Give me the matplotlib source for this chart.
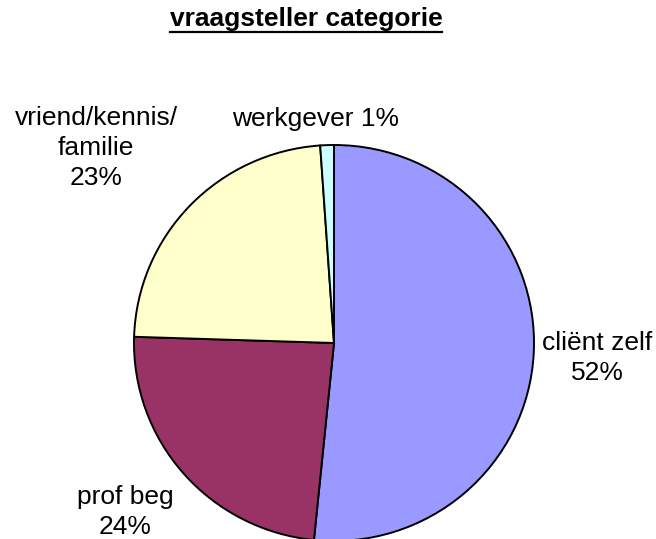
import matplotlib
matplotlib.use("Agg")
import matplotlib.pyplot as plt
from matplotlib.lines import Line2D

plt.rcParams['font.family'] = ['Liberation Sans', 'DejaVu Sans']

# data
categories = ["cliënt zelf", "prof beg", "vriend/kennis/\nfamilie", "werkgever"]
shares = [51.6, 23.9, 23.4, 1.1]
colors = ["#9999FF", "#993366", "#FFFFCC", "#CCFFFF"]
title = "vraagsteller categorie"

W, H = 656, 539
fig = plt.figure(figsize=(W / 100, H / 100), dpi=100)

# pie box in pixels: left 134, top 145, 400 wide, 396 high
ax = fig.add_axes([134 / W, (H - 145 - 396) / H, 400 / W, 396 / H])
ax.pie(shares, colors=colors, startangle=90, counterclock=False,
       wedgeprops=dict(edgecolor="black", linewidth=1.4))
ax.set_xlim(-1, 1)
ax.set_ylim(-1, 1)
ax.set_aspect("auto")
ax.axis("off")

total = sum(shares)
pcts = [round(v / total * 100) for v in shares]

# label positions in pixels (center of text block)
label_pos = [(597, 358), (125, 512), (96, 148), (316, 119)]
for name, p, (x, y) in zip(categories, pcts, label_pos):
    if name == "werkgever":
        txt = f"{name} {p}%"
    else:
        txt = f"{name}\n{p}%"
    fig.text(x / W, 1 - y / H, txt, ha="center", va="center",
             fontsize=19, linespacing=1.3)

t = fig.text(306 / W, 1 - 19 / H, title, ha="center", va="center",
             fontsize=19, fontweight="bold")
fig.canvas.draw()
bb = t.get_window_extent(renderer=fig.canvas.get_renderer())
uy = H - 32
fig.add_artist(Line2D([bb.x0 / W, bb.x1 / W], [uy / H, uy / H],
                      transform=fig.transFigure, color="black", linewidth=1.6))

fig.savefig("out.png", dpi=100)
